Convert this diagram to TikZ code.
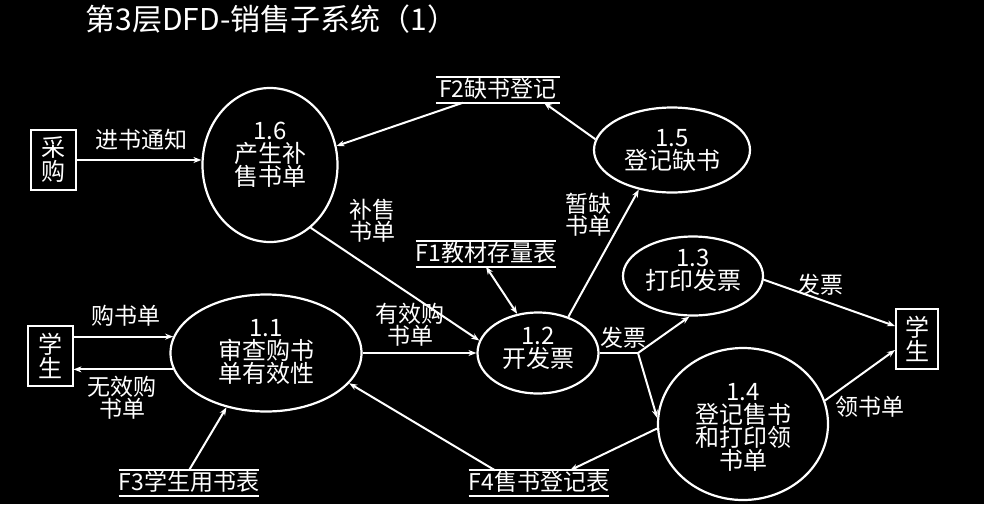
\documentclass[tikz,border=0pt]{standalone}
\usepackage{fontspec}
\setmainfont{Noto Sans CJK SC}
\usetikzlibrary{shapes.geometric,arrows.meta}

\tikzset{
line/.style={white,line width=2pt,>={Stealth[length=8pt,width=6pt]}},
flow/.style={line,->},
process/.style={draw=white,line width=2.2pt,ellipse,inner sep=0pt},
store/.style={text=white,inner xsep=0pt,inner ysep=1pt,text height=19pt,text depth=4pt,font=\fontsize{23}{23}\selectfont},
extern/.style={draw=white,line width=2pt,text=white,align=center,inner sep=0pt,minimum width=45pt,minimum height=60pt,font=\fontsize{24}{24}\selectfont},
lbl/.style={text=white,align=center,font=\fontsize{23}{22}\selectfont}
}

\providecommand{\Process}[6]{
\node[process,minimum width=#3,minimum height=#4] (#1) at (#2) {};
\node[lbl,font=\fontsize{24}{23}\selectfont] (#1t) at (#5) {#6};
}
\providecommand{\Store}[4]{
\node[store,minimum width=#4] (#1) at (#2) {#3};
\draw[line] (#1.north west) -- (#1.north east);
\draw[line] (#1.south west) -- (#1.south east);
}

\begin{document}
\begin{tikzpicture}[x=1pt,y=-1pt]
\fill[black] (0,0) rectangle (984,504);
\useasboundingbox (0,0) rectangle (984,504);
\node[text=white,anchor=west,font=\fontsize{30}{30}\selectfont] (title) at (82,19) {第3层DFD-销售子系统（1）};

\Process{p11}{266,353}{191pt}{117pt}{266,352}{1.1\\审查购书\\单有效性}
\Process{p12}{538,353}{121pt}{81pt}{538,348}{1.2\\开发票}
\Process{p13}{693,276}{140pt}{79pt}{693,270}{1.3\\打印发票}
\Process{p14}{743,424}{170pt}{152pt}{743,427}{1.4\\登记售书\\和打印领\\书单}
\Process{p15}{672,150}{156pt}{85pt}{672,150}{1.5\\登记缺书}
\Process{p16}{270,165}{135pt}{154pt}{270,155}{1.6\\产生补\\售书单}

\Store{f1}{486,254}{F1教材存量表}{138pt}
\Store{f2}{498,90}{F2缺书登记}{124pt}
\Store{f3}{189,483}{F3学生用书表}{138pt}
\Store{f4}{539,483}{F4售书登记表}{138pt}

\node[extern] (cg) at (53,160) {采\\购};
\node[extern] (xs1) at (50,356) {学\\生};
\node[extern,minimum width=42pt] (xs2) at (917,339) {学\\生};

\draw[flow] (cg.east) -- (cg.east -| p16.west);
\draw[flow] ([xshift=-35pt]f2.south) -- (p16.16);
\draw[flow] (p15.172) -- ([xshift=46pt]f2.south);
\draw[flow] (p12.50) -- (p15.230);
\draw[line,<->] (f1.south) -- (p12.118);
\draw[flow] (p16.-57) -- (p12.168);
\draw[flow] (p11.170 -| xs1.east) -- (p11.170);
\draw[flow] (p11.190) -- (p11.190 -| xs1.east);
\draw[flow] (p11) -- (p12);
\draw[flow] (f3.north) -- (p11.234);
\draw[flow] ([xshift=-44pt]f4.north) -- (p11.-20);
\draw[flow] (p14.183) -- ([xshift=31pt]f4.north);
\coordinate (fp) at (638,353);
\draw[line] (p12.east) -- (fp);
\draw[flow] (fp) -- (p13.265);
\draw[flow] (fp) -- (p14.176);
\draw[flow] (p13.-3) -- ([yshift=13pt]xs2.west);
\draw[flow] (p14.16) -- ([yshift=-11pt]xs2.west);

\node[lbl] (l1) at (141,140) {进书通知};
\node[lbl] (l2) at (372,221) {补售\\书单};
\node[lbl] (l3) at (588,215) {暂缺\\书单};
\node[lbl] (l4) at (126,316) {购书单};
\node[lbl] (l5) at (122,398) {无效购\\书单};
\node[lbl] (l6) at (410,325) {有效购\\书单};
\node[lbl] (l7) at (623,338) {发票};
\node[lbl] (l8) at (820,285) {发票};
\node[lbl] (l9) at (870,407) {领书单};
\end{tikzpicture}
\end{document}
